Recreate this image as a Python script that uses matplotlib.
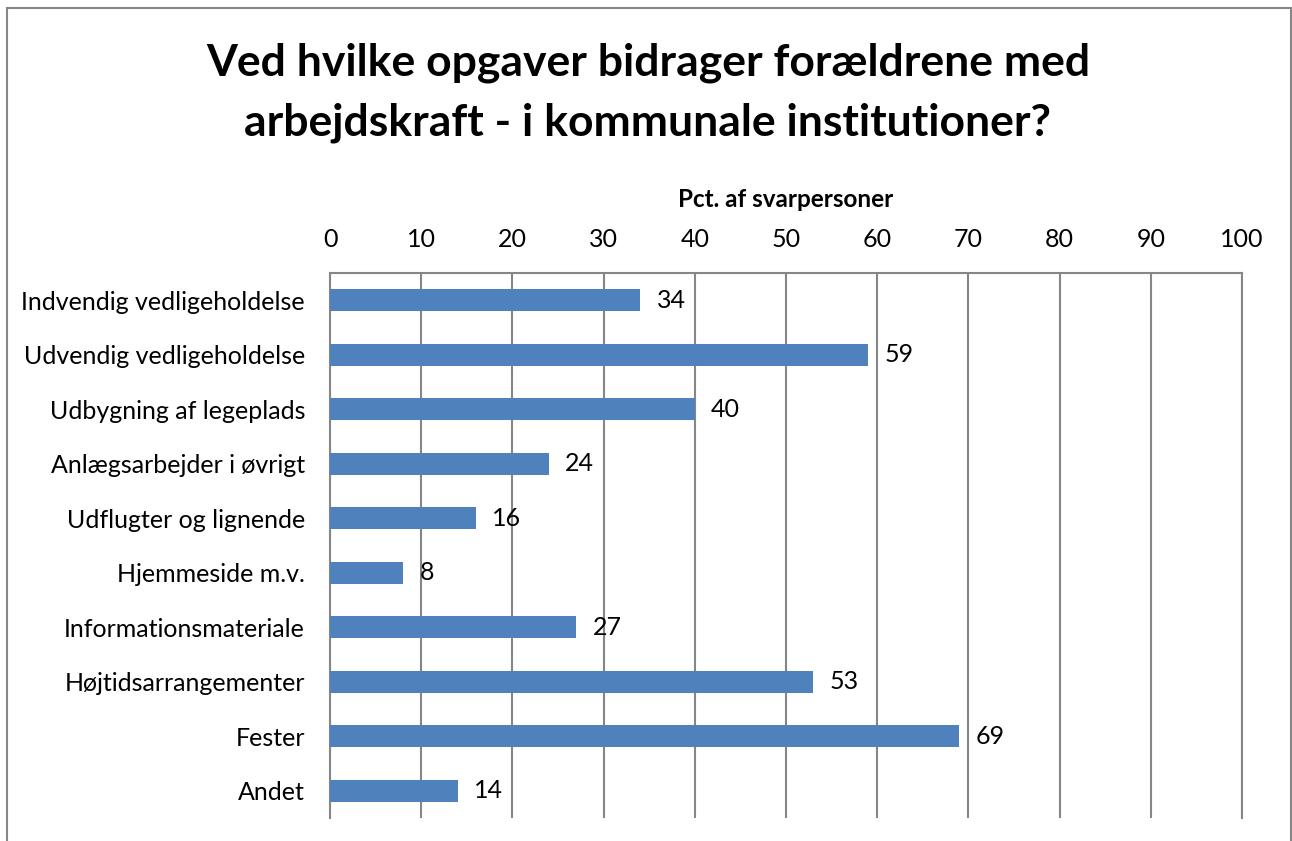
import matplotlib.pyplot as plt
from matplotlib.patches import Rectangle

categories = ["Indvendig vedligeholdelse", "Udvendig vedligeholdelse", "Udbygning af legeplads",
              "Anlægsarbejder i øvrigt", "Udflugter og lignende", "Hjemmeside m.v.",
              "Informationsmateriale", "Højtidsarrangementer", "Fester", "Andet"]
values = [34, 59, 40, 24, 16, 8, 27, 53, 69, 14]
xticks = list(range(0, 101, 10))

plt.rcParams['font.family'] = ['Lato', 'DejaVu Sans']
grey = "#868686"
blue = "#4F81BD"

fig = plt.figure(figsize=(12.92, 8.41), dpi=100)
fig.patches.append(Rectangle((7 / 1292, -0.1), 1284 / 1292, 1.1 - 8 / 841,
                             transform=fig.transFigure, fill=False,
                             edgecolor=grey, linewidth=1.5))

ax = fig.add_axes([330 / 1292, 1 - 818 / 841, 912 / 1292, 545 / 841])
y = list(range(len(categories)))
ax.barh(y, values, height=0.4, color=blue, zorder=3)
for yi, v in zip(y, values):
    ax.text(v + 1.8, yi, str(v), va="center", ha="left", fontsize=18)

ax.set_xlim(0, 100)
ax.set_ylim(len(categories) - 0.5, -0.5)
ax.set_xticks(xticks)
ax.set_yticks(y)
ax.set_yticklabels(categories)
ax.xaxis.tick_top()
ax.xaxis.set_label_position("top")
ax.set_xlabel("Pct. af svarpersoner", fontsize=17.5, fontweight="bold", labelpad=15)
ax.tick_params(axis="both", length=0, labelsize=18)
ax.tick_params(axis="x", pad=16)
ax.tick_params(axis="y", pad=18)
ax.grid(axis="x", color=grey, linewidth=1.5, zorder=0)
for side in ["top", "left", "right"]:
    ax.spines[side].set_color(grey)
    ax.spines[side].set_linewidth(1.5)
ax.spines["bottom"].set_visible(False)

fig.text(648 / 1292, 1 - 93 / 841,
         "Ved hvilke opgaver bidrager forældrene med\narbejdskraft - i kommunale institutioner?",
         ha="center", va="center", fontsize=32, fontweight="bold", linespacing=1.6)

fig.savefig("out.png", dpi=100)
